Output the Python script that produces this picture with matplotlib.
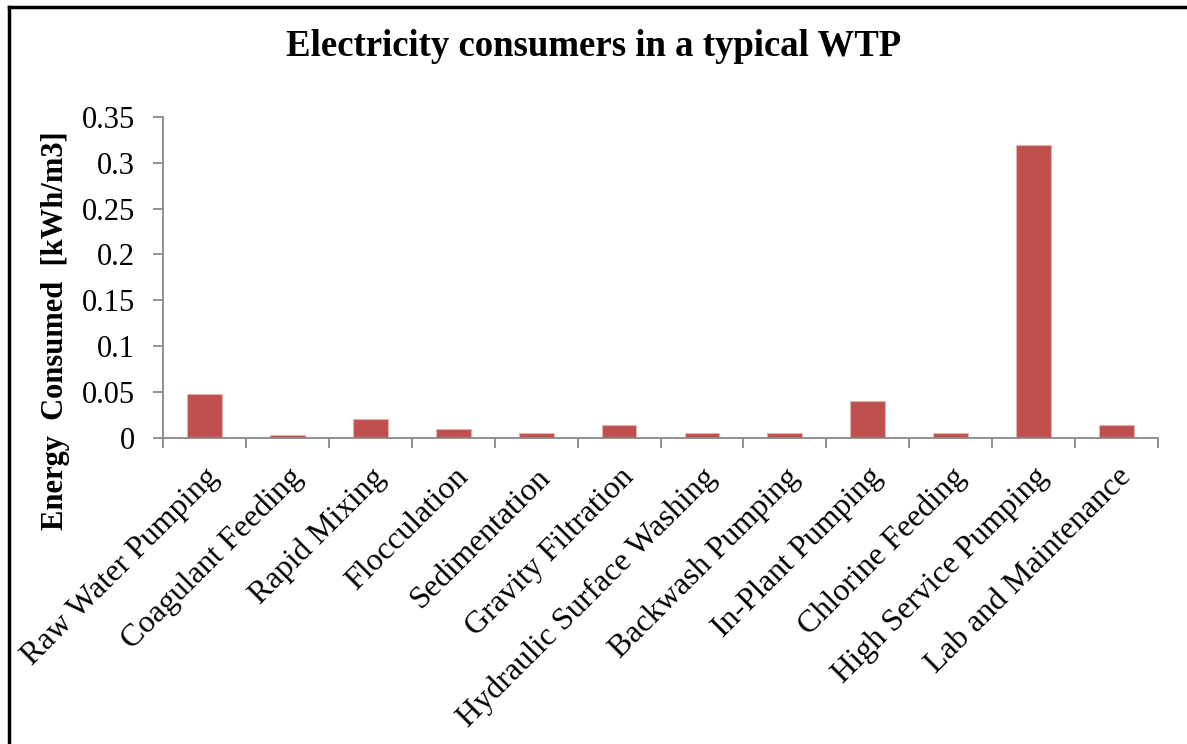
import numpy as np
import matplotlib
matplotlib.use("Agg")
import matplotlib.pyplot as plt
from matplotlib.lines import Line2D

plt.rcParams['font.family'] = ['Liberation Serif', 'DejaVu Serif']

categories = ['Raw Water Pumping', 'Coagulant Feeding', 'Rapid Mixing', 'Flocculation',
              'Sedimentation', 'Gravity Filtration', 'Hydraulic Surface Washing',
              'Backwash Pumping', 'In-Plant Pumping', 'Chlorine Feeding',
              'High Service Pumping', 'Lab and Maintenance']
energy = [0.048, 0.003, 0.020, 0.009, 0.005, 0.014, 0.005, 0.005, 0.040, 0.005, 0.320, 0.014]
yticks = [0, 0.05, 0.1, 0.15, 0.2, 0.25, 0.3, 0.35]
ytick_labels = ['0', '0.05', '0.1', '0.15', '0.2', '0.25', '0.3', '0.35']

fig = plt.figure(figsize=(11.87, 7.44), dpi=100)
ax = fig.add_axes([0.1373, 0.4117, 0.8383, 0.431])

x = np.arange(len(categories))
ax.bar(x, energy, width=0.42, color='#c0504d', edgecolor='#e6b0ae', linewidth=0.8)

ax.set_xlim(-0.5, len(categories) - 0.5)
ax.set_ylim(0, 0.35)
ax.set_yticks(yticks)
ax.set_yticklabels(ytick_labels, fontsize=22)
ax.set_xticks(x)
ax.set_xticklabels(categories, rotation=45, ha='right', rotation_mode='anchor', fontsize=23)
ax.set_xticks(np.arange(-0.5, len(categories)), minor=True)
ax.tick_params(axis='x', which='major', length=0, pad=18)
ax.tick_params(axis='x', which='minor', length=7, color='#888888', width=1.3, direction='out')
ax.tick_params(axis='y', length=7, color='#888888', width=1.3, direction='out', pad=13)

for s in ['top', 'right']:
    ax.spines[s].set_visible(False)
for s in ['left', 'bottom']:
    ax.spines[s].set_color('#888888')
    ax.spines[s].set_linewidth(1.3)

fig.text(56 / 1187, 0.556, 'Energy  Consumed  [kWh/m3]', rotation=90, ha='center', va='center',
         fontsize=22, fontweight='bold')
fig.text(0.5, 0.938, 'Electricity consumers in a typical WTP', ha='center', va='center',
         fontsize=26.5, fontweight='bold')

# outer frame (only left and top visible in the crop)
fig.add_artist(Line2D([9 / 1187, 9 / 1187], [0, 1 - 7 / 744], transform=fig.transFigure,
                      color='black', linewidth=2.5))
fig.add_artist(Line2D([9 / 1187, 1], [1 - 7 / 744, 1 - 7 / 744], transform=fig.transFigure,
                      color='black', linewidth=2.5))

fig.savefig('out.png', dpi=100)
